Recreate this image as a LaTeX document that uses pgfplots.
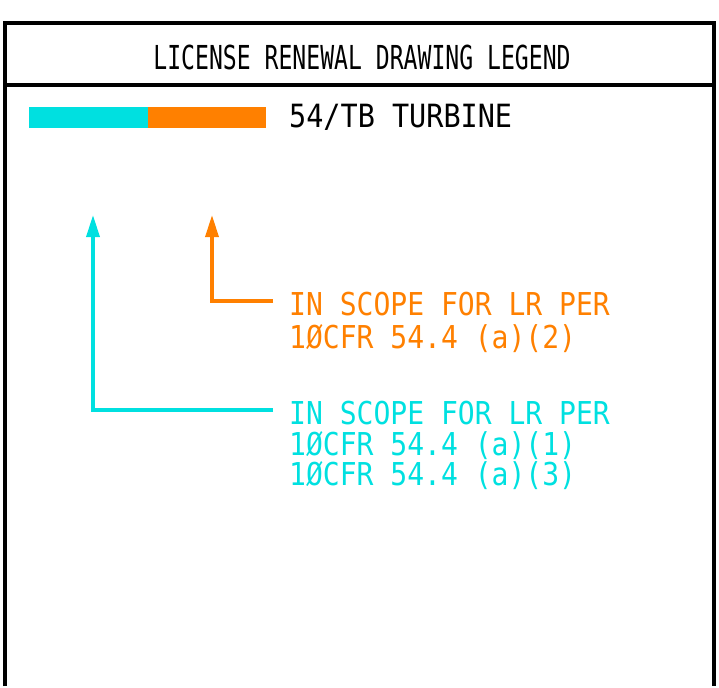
\documentclass[border=0pt]{standalone}
\usepackage{pgfplots}
\pgfplotsset{compat=1.18}
\usepackage{fontspec}
\usetikzlibrary{arrows.meta}
\newfontfamily\cadfont{DejaVu Sans Mono}[FakeStretch=0.89]
\newfontfamily\cadtitle{DejaVu Sans Mono}[FakeStretch=0.70]
\definecolor{lrcyan}{RGB}{0,224,224}
\definecolor{lrorange}{RGB}{255,128,0}
\begin{document}
\begin{tikzpicture}
\begin{axis}[
  scale only axis, width=719pt, height=686pt,
  xmin=0, xmax=719, ymin=0, ymax=686, y dir=reverse,
  hide axis, clip=false,
]
% extent
\addplot[draw=none, forget plot] coordinates {(0,0) (719,686)};
% frame
\addplot[black, line width=3.2pt, forget plot] coordinates {(5,686) (5,23) (714,23) (714,686)};
\addplot[black, line width=3.2pt, forget plot] coordinates {(5,85) (714,85)};
% bars
\addplot[fill=lrcyan, draw=none, forget plot] coordinates {(29,107) (148,107) (148,128) (29,128)} -- cycle;
\addplot[fill=lrorange, draw=none, forget plot] coordinates {(148,107) (266,107) (266,128) (148,128)} -- cycle;
% leaders
\addplot[lrorange, line width=3.4pt, -{Triangle[length=22pt,width=13pt]}, forget plot] coordinates {(273,301) (212,301) (212,215)};
\addplot[lrcyan, line width=3.4pt, -{Triangle[length=22pt,width=13pt]}, forget plot] coordinates {(273,410) (93,410) (93,215)};
% texts
\node[anchor=base, inner sep=0pt] at (axis cs:362,70) {\cadtitle\fontsize{33}{33}\selectfont LICENSE RENEWAL DRAWING LEGEND};
\node[anchor=base west, inner sep=0pt] at (axis cs:289,127) {\cadfont\fontsize{32}{32}\selectfont 54/TB TURBINE};
\node[anchor=base west, inner sep=0pt, text=lrorange] at (axis cs:289,315) {\cadfont\fontsize{31.5}{31.5}\selectfont IN SCOPE FOR LR PER};
\node[anchor=base west, inner sep=0pt, text=lrorange] at (axis cs:289,348) {\cadfont\fontsize{31.5}{31.5}\selectfont 1ØCFR 54.4 (a)(2)};
\node[anchor=base west, inner sep=0pt, text=lrcyan] at (axis cs:289,424) {\cadfont\fontsize{31.5}{31.5}\selectfont IN SCOPE FOR LR PER};
\node[anchor=base west, inner sep=0pt, text=lrcyan] at (axis cs:289,455) {\cadfont\fontsize{31.5}{31.5}\selectfont 1ØCFR 54.4 (a)(1)};
\node[anchor=base west, inner sep=0pt, text=lrcyan] at (axis cs:289,485) {\cadfont\fontsize{31.5}{31.5}\selectfont 1ØCFR 54.4 (a)(3)};
\end{axis}
\end{tikzpicture}
\end{document}
